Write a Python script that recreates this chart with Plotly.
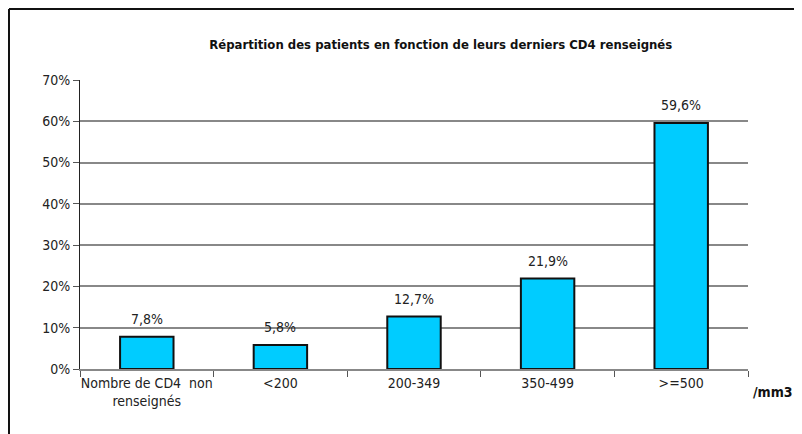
import plotly.graph_objects as go

categories = ["Nombre de CD4  non<br>renseignés", "<200", "200-349", "350-499", ">=500"]
values = [7.8, 5.8, 12.7, 21.9, 59.6]
labels = ["7,8%", "5,8%", "12,7%", "21,9%", "59,6%"]
y_ticks = [0, 10, 20, 30, 40, 50, 60, 70]
y_ticklabels = ["0%", "10%", "20%", "30%", "40%", "50%", "60%", "70%"]

FONT = "DejaVu Sans Condensed, Liberation Sans Narrow, Arial Narrow, Liberation Sans, sans-serif"

fig = go.Figure(go.Bar(
    x=categories,
    y=values,
    marker=dict(color="#00CCFF", line=dict(color="#111", width=2)),
    width=0.4,
))

# value labels sit a little higher above the bars than plotly's default
for cat, val, lab in zip(categories, values, labels):
    fig.add_annotation(x=cat, y=val, text=lab, showarrow=False,
                       yanchor="bottom", yshift=8,
                       font=dict(size=14, color="#222"))

# page has an 8px body margin, so the figure is sized 794x426
fig.update_layout(
    width=794, height=426,
    margin=dict(l=72, r=54, t=72, b=65),
    paper_bgcolor="white",
    plot_bgcolor="white",
    font=dict(family=FONT, size=14, color="#222"),
    title=dict(text="<b>Répartition des patients en fonction de leurs derniers CD4 renseignés</b>",
               x=0.545, xanchor="center", y=0.915, yanchor="middle",
               font=dict(size=13, color="#111")),
    showlegend=False,
    bargap=0.6,
)
fig.update_yaxes(
    range=[0, 70], tickvals=y_ticks, ticktext=y_ticklabels,
    showgrid=True, gridcolor="#888", gridwidth=1.5,
    showline=True, linecolor="#222", linewidth=1,
    ticks="outside", ticklen=6, tickcolor="#555",
    zeroline=False, fixedrange=True, ticksuffix=" ", automargin=False,
)
fig.update_xaxes(
    showline=True, linecolor="#888", linewidth=1.5,
    ticks="outside", tickson="boundaries", ticklen=6, tickcolor="#555",
    showgrid=False, fixedrange=True, tickangle=0, automargin=False,
)

fig.add_annotation(text="<b>/mm3</b>", xref="paper", yref="paper", x=1.005, y=-0.08,
                   xanchor="left", yanchor="middle", showarrow=False,
                   font=dict(size=14, color="#111"))

# outer frame (top and left edges visible)
fig.add_shape(type="line", xref="paper", yref="paper", x0=-0.1063, x1=1.2, y0=1.2457, y1=1.2457,
              line=dict(color="#111", width=2))
fig.add_shape(type="line", xref="paper", yref="paper", x0=-0.1063, x1=-0.1063, y0=1.2457, y1=-0.3,
              line=dict(color="#111", width=2))

fig.write_html("out.html")
